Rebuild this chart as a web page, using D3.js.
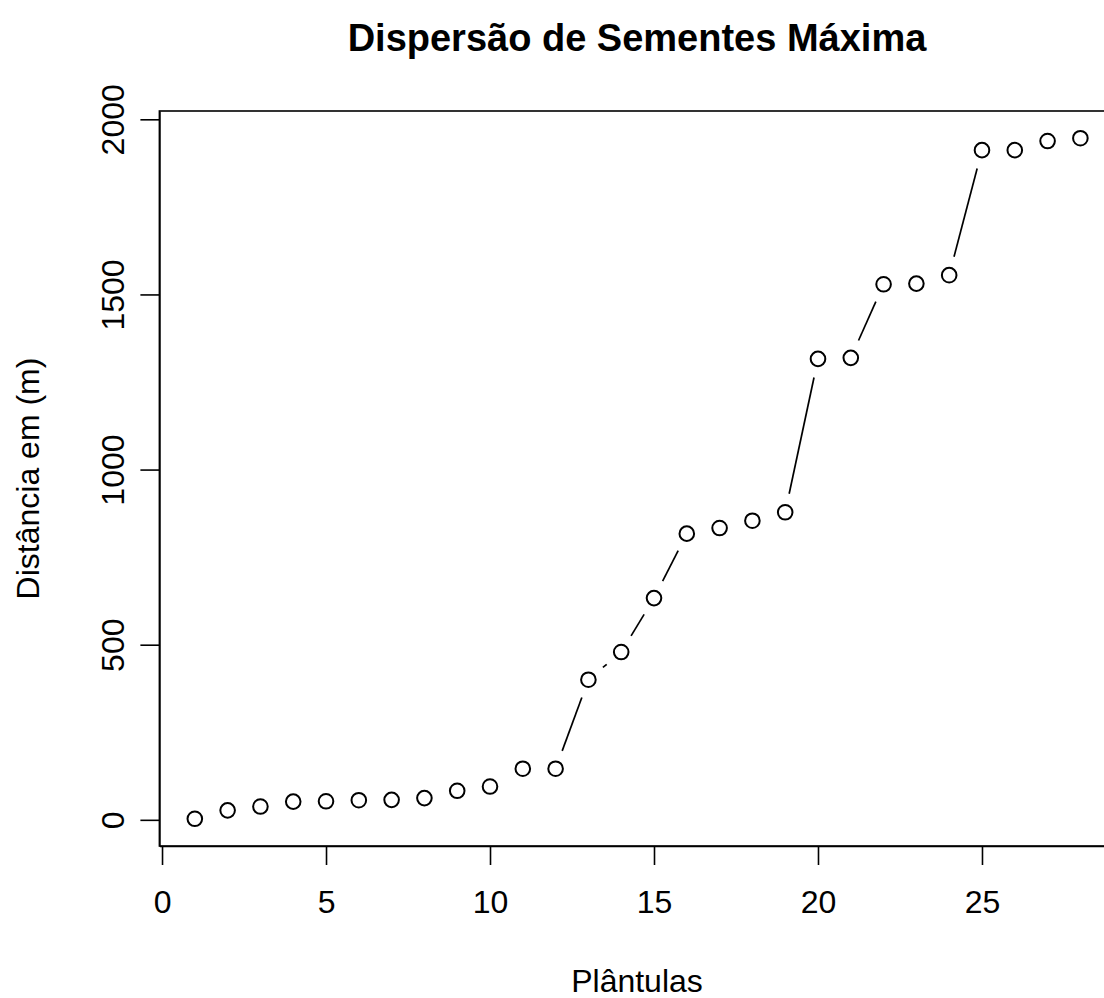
<!DOCTYPE html>
<html>
<head>
<meta charset="utf-8">
<script src="https://cdn.jsdelivr.net/npm/d3@7"></script>
<style>
  body { margin: 0; background: #fff; }
  svg { display: block; }
  text { font-family: "Liberation Sans", Arial, sans-serif; fill: #000; }
</style>
</head>
<body>
<div id="chart"></div>
<script>
// data
var plantulas = [1, 2, 3, 4, 5, 6, 7, 8, 9, 10, 11, 12, 13, 14, 15, 16, 17, 18, 19, 20, 21, 22, 23, 24, 25, 26, 27, 28];
var distancia = [3, 27, 38, 52, 53, 56, 57, 62, 83, 95, 146, 146, 400, 479, 633, 817, 833, 854, 878,
                 1316, 1319, 1529, 1531, 1555, 1912, 1912, 1938, 1946];
var xTicks = [0, 5, 10, 15, 20, 25];
var yTicks = [0, 500, 1000, 1500, 2000];

var svgWidth = 1104;
var svgHeight = 998;

// plot region (R style, box extends past the right edge)
var box = { left: 159.4, right: 1115.8, top: 111, bottom: 846 };

var svg = d3.select("#chart")
  .append("svg")
  .attr("width", svgWidth)
  .attr("height", svgHeight);

// R pads the data range by 4% on each side
var xExt = d3.extent(plantulas), xPad = (xExt[1] - xExt[0]) * 0.04;
var yExt = d3.extent(distancia), yPad = (yExt[1] - yExt[0]) * 0.04;

var x = d3.scaleLinear()
  .domain([xExt[0] - xPad, xExt[1] + xPad])
  .range([box.left, box.right]);

var y = d3.scaleLinear()
  .domain([yExt[0] - yPad, yExt[1] + yPad])
  .range([box.bottom, box.top]);

// box
svg.append("rect")
  .attr("x", box.left)
  .attr("y", box.top)
  .attr("width", box.right - box.left)
  .attr("height", box.bottom - box.top)
  .attr("fill", "none")
  .attr("stroke", "#000")
  .attr("stroke-width", 1.6);

// axes
var xAxis = d3.axisBottom(x).tickValues(xTicks).tickSize(19).tickSizeOuter(0).tickFormat(d3.format("d"));
var yAxis = d3.axisLeft(y).tickValues(yTicks).tickSize(19).tickSizeOuter(0).tickFormat(d3.format("d"));

var gx = svg.append("g")
  .attr("transform", `translate(0, ${box.bottom})`)
  .call(xAxis);
gx.selectAll("text").attr("font-size", 32).style("font-family", "Liberation Sans, Arial, sans-serif").attr("dy", "0.71em").attr("y", 44);

var gy = svg.append("g")
  .attr("transform", `translate(${box.left}, 0)`)
  .call(yAxis);
gy.selectAll(".tick text")
  .attr("font-size", 32)
  .style("font-family", "Liberation Sans, Arial, sans-serif")
  .attr("x", null).attr("dy", null)
  .attr("text-anchor", "middle")
  .attr("transform", "translate(-35, 0) rotate(-90)");

svg.selectAll(".domain, .tick line")
  .attr("stroke", "#000")
  .attr("stroke-width", 1.6);

// lines between points, with gaps around the circles (type = "b")
var gap = 19;
var segs = d3.pairs(d3.zip(plantulas, distancia)).map(function(p) {
  var x0 = x(p[0][0]), y0 = y(p[0][1]), x1 = x(p[1][0]), y1 = y(p[1][1]);
  var dx = x1 - x0, dy = y1 - y0, len = Math.sqrt(dx * dx + dy * dy);
  if (len <= 2 * gap) return null;
  var ux = dx / len, uy = dy / len;
  return [x0 + ux * gap, y0 + uy * gap, x1 - ux * gap, y1 - uy * gap];
}).filter(function(s) { return s; });

svg.selectAll("line.seg")
  .data(segs)
  .enter()
  .append("line")
  .attr("class", "seg")
  .attr("x1", d => d[0]).attr("y1", d => d[1])
  .attr("x2", d => d[2]).attr("y2", d => d[3])
  .attr("stroke", "#000")
  .attr("stroke-width", 1.7);

// points
svg.selectAll("circle")
  .data(plantulas)
  .enter()
  .append("circle")
  .attr("cx", (d, i) => x(d))
  .attr("cy", (d, i) => y(distancia[i]))
  .attr("r", 7.3)
  .attr("fill", "none")
  .attr("stroke", "#000")
  .attr("stroke-width", 2);

// titles
svg.append("text")
  .attr("x", 637)
  .attr("y", 51)
  .attr("text-anchor", "middle")
  .attr("font-size", 38)
  .attr("font-weight", "bold")
  .text("Dispersão de Sementes Máxima");

svg.append("text")
  .attr("x", 637)
  .attr("y", 992)
  .attr("text-anchor", "middle")
  .attr("font-size", 32)
  .text("Plântulas");

svg.append("text")
  .attr("transform", `translate(39, ${(box.top + box.bottom) / 2}) rotate(-90)`)
  .attr("text-anchor", "middle")
  .attr("font-size", 32)
  .text("Distância em (m)");
</script>
</body>
</html>
